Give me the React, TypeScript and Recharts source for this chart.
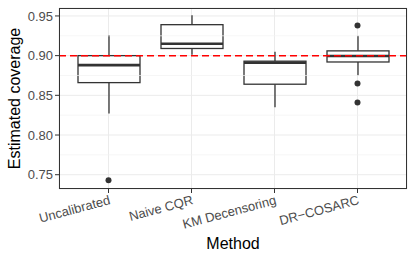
import React from 'react';
import { ComposedChart, Bar, Scatter, XAxis, YAxis, CartesianGrid, ReferenceLine } from 'recharts';

const methods = ['Uncalibrated', 'Naive CQR', 'KM Decensoring', 'DR\u2212COSARC'];
const whiskerLow = [0.827, 0.901, 0.835, 0.875];
const q1 = [0.866, 0.909, 0.864, 0.892];
const median = [0.888, 0.915, 0.891, 0.8995];
const q3 = [0.9, 0.939, 0.893, 0.906];
const whiskerHigh = [0.926, 0.951, 0.905, 0.925];

const outlierMethods = ['Uncalibrated', 'DR\u2212COSARC', 'DR\u2212COSARC', 'DR\u2212COSARC'];
const outlierValues = [0.743, 0.938, 0.865, 0.841];

const yTicks = [0.75, 0.8, 0.85, 0.9, 0.95];
const minorTicks = [0.775, 0.825, 0.875, 0.925];
const target = 0.9;

const boxData = methods.map((m, i) => ({
  method: m,
  range: [whiskerLow[i], whiskerHigh[i]],
  low: whiskerLow[i],
  q1: q1[i],
  median: median[i],
  q3: q3[i],
  high: whiskerHigh[i],
}));

const outlierData = outlierMethods.map((m, i) => ({ method: m, value: outlierValues[i] }));

const FONT = '"Liberation Sans", Arial, Helvetica, sans-serif';
const INK = '#333333';

// box drawn from the whisker range bar: pixel ends of the range give the scale
const BoxShape = (props: any) => {
  const { x, y, width, height, payload } = props;
  const top = Math.min(y, y + height);
  const bottom = Math.max(y, y + height);
  const span = payload.high - payload.low;
  const py = (v: number) => bottom + ((v - payload.low) / span) * (top - bottom);
  const cx = x + width / 2;
  return (
    <g>
      <line x1={cx} x2={cx} y1={py(payload.high)} y2={py(payload.q3)} stroke={INK} strokeWidth={1.3} />
      <line x1={cx} x2={cx} y1={py(payload.q1)} y2={py(payload.low)} stroke={INK} strokeWidth={1.3} />
      <rect x={x} y={py(payload.q3)} width={width} height={py(payload.q1) - py(payload.q3)} fill="#ffffff" stroke={INK} strokeWidth={1.3} />
      <line x1={x} x2={x + width} y1={py(payload.median)} y2={py(payload.median)} stroke={INK} strokeWidth={2.6} />
    </g>
  );
};

const OutlierDot = (props: any) => {
  const { cx, cy } = props;
  return <circle cx={cx} cy={cy} r={3} fill={INK} />;
};

const XTick = (props: any) => {
  const { x, y, payload } = props;
  return (
    <g transform={`translate(${x},${y})`}>
      <text transform="rotate(-15)" textAnchor="end" dy="0.71em" fill="#4D4D4D" fontSize={13} fontFamily={FONT}>
        {payload.value}
      </text>
    </g>
  );
};

export default function App() {
  return (
    <div style={{ position: 'absolute', left: 0, top: 0, width: 415, height: 260, background: '#fff' }}>
      <ComposedChart width={415} height={260} data={boxData} margin={{ top: 8, right: 8, bottom: 0, left: 0 }}>
        <CartesianGrid stroke="#EBEBEB" strokeWidth={1} />
        {minorTicks.map((v) => (
          <ReferenceLine key={v} y={v} stroke="#F2F2F2" strokeWidth={0.7} />
        ))}
        <XAxis
          dataKey="method"
          type="category"
          allowDuplicatedCategory={false}
          padding={{ left: 8, right: 8 }}
          axisLine={false}
          tickSize={4}
          tickMargin={2}
          tickLine={{ stroke: INK, strokeWidth: 1 }}
          tick={<XTick />}
          height={71}
          interval={0}
          label={{ value: 'Method', position: 'insideBottom', offset: 11, fontSize: 16, fill: '#000', fontFamily: FONT }}
        />
        <YAxis
          type="number"
          domain={[0.732, 0.96]}
          ticks={yTicks}
          allowDataOverflow
          width={59}
          axisLine={false}
          tickSize={4}
          tickMargin={2}
          tickLine={{ stroke: INK, strokeWidth: 1 }}
          tick={{ fontSize: 13, fill: '#4D4D4D', fontFamily: FONT }}
          tickFormatter={(v: number) => v.toFixed(2)}
          label={{
            value: 'Estimated coverage',
            content: ({ viewBox }: any) => {
              const lx = viewBox.x + 14;
              const ly = viewBox.y + viewBox.height / 2;
              return (
                <text x={lx} y={ly} transform={`rotate(-90, ${lx}, ${ly})`} textAnchor="middle" dominantBaseline="central" fontSize={16} fill="#000" fontFamily={FONT}>
                  Estimated coverage
                </text>
              );
            },
          }}
        />
        <Bar dataKey="range" barSize={62} shape={<BoxShape />} isAnimationActive={false} />
        <Scatter data={outlierData} dataKey="value" shape={<OutlierDot />} isAnimationActive={false} />
        <ReferenceLine y={target} stroke="#FF0000" strokeWidth={1.5} strokeDasharray="7 4" />
      </ComposedChart>
      <div
        style={{
          position: 'absolute',
          left: 59,
          top: 8,
          width: 348,
          height: 181,
          border: `1px solid ${INK}`,
          boxSizing: 'border-box',
          pointerEvents: 'none',
        }}
      />
    </div>
  );
}
